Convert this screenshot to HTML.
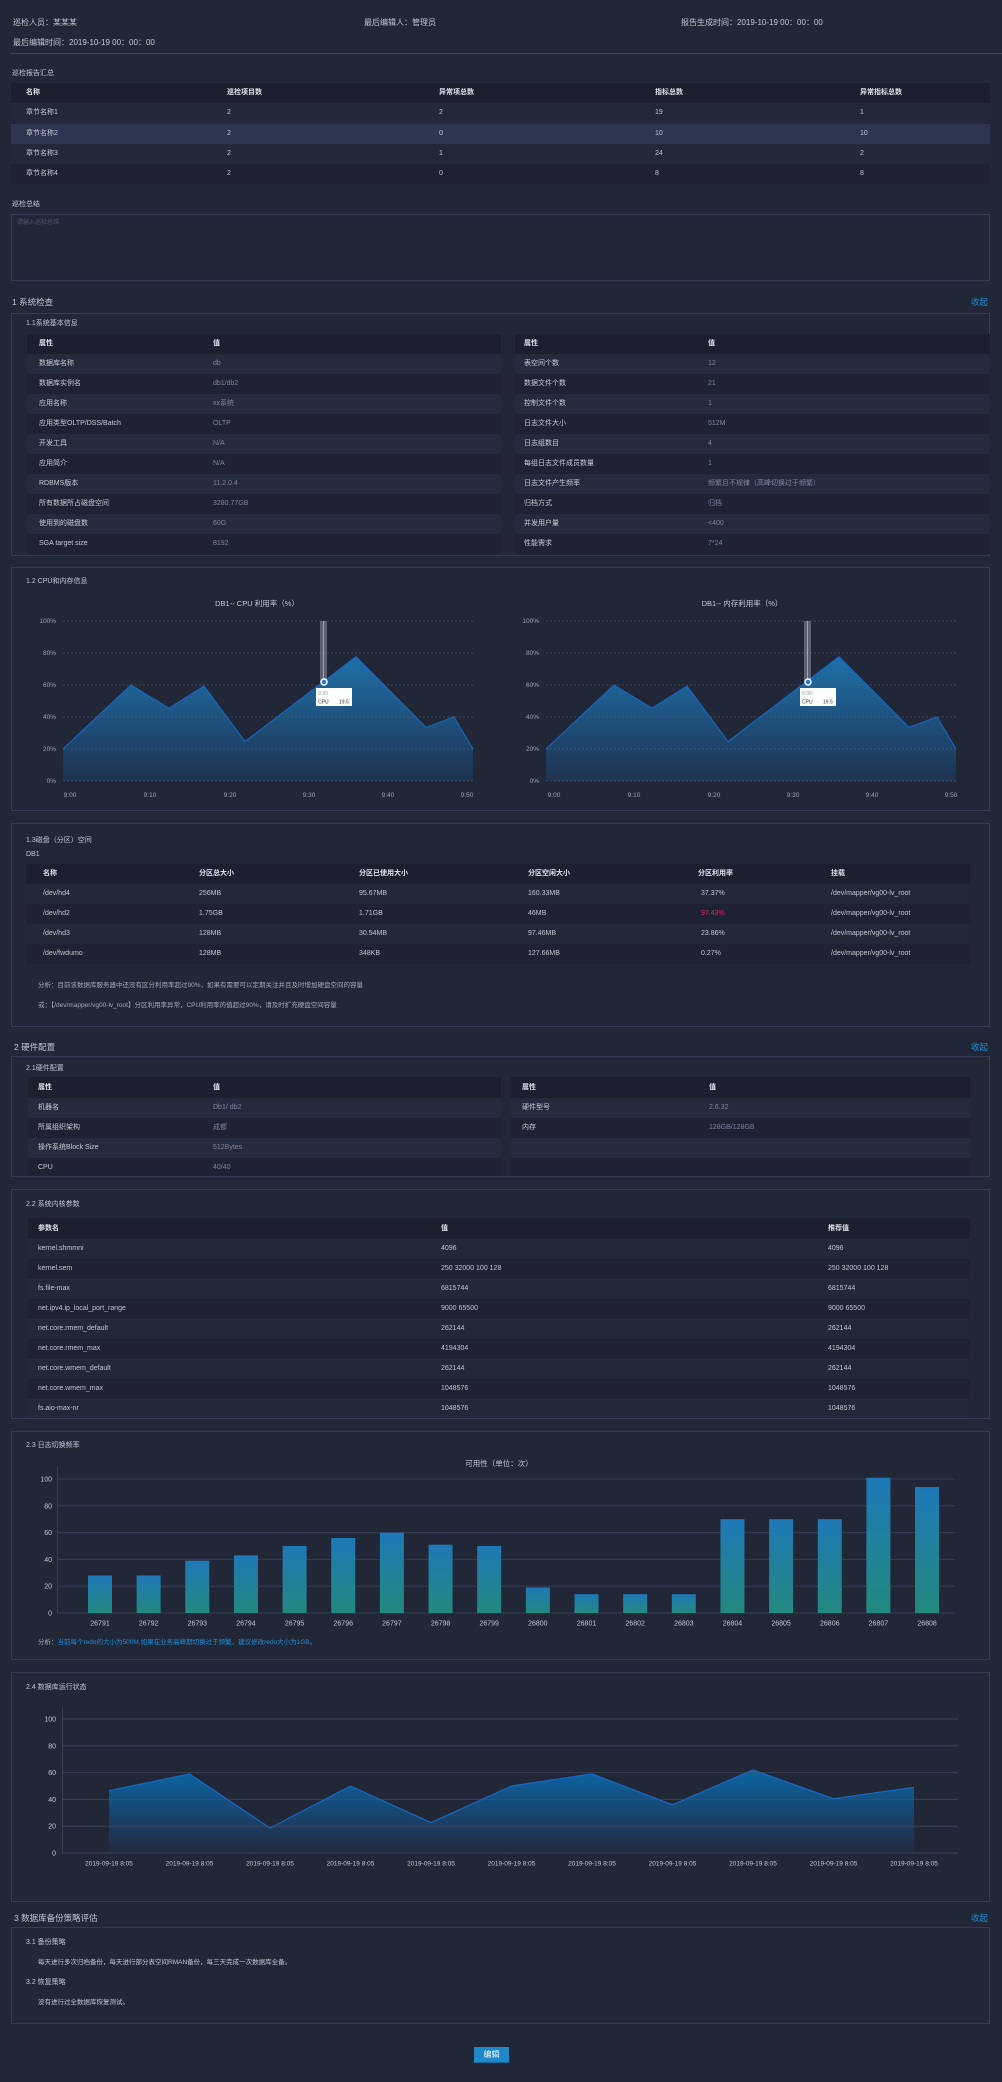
<!DOCTYPE html>
<html><head><meta charset="utf-8">
<style>
*{margin:0;padding:0;box-sizing:border-box}
html,body{width:1002px;height:2082px;overflow:hidden}
body{background:#222738;font-family:"Liberation Sans","Noto Sans CJK SC",sans-serif;color:#c3c7d1;font-size:8px;position:relative}
.a{position:absolute}
.t{position:absolute;white-space:nowrap;line-height:10px}
.s{font-size:8.5px}
.st{font-size:7px}
.p{position:absolute;left:11px;width:979px;border:1px solid #353b50}
.blue{color:#1f8fd6}
.r{position:absolute;height:20px;line-height:20px;font-size:7px;white-space:nowrap}
.r span{position:absolute;top:0}
.h{background:#1b1f2e;color:#dfe2e9;font-weight:bold}
.l{background:#252a3d}
.d{background:#1e2232}
.g{color:#7d85a1}
.w{color:#c8ccd5}
</style></head><body>

<div class="t" style="left:13px;top:18px">巡检人员：某某某</div>
<div class="t" style="left:364px;top:18px">最后编辑人：管理员</div>
<div class="t" style="left:681px;top:18px">报告生成时间：2019-10-19 00：00：00</div>
<div class="t" style="left:13px;top:38px">最后编辑时间：2019-10-19 00：00：00</div>
<div class="a" style="left:11px;top:53px;width:991px;height:1px;background:#3f4559"></div>

<div class="t st" style="left:12px;top:69px">巡检报告汇总</div>
<div class="r h" style="left:11px;top:83px;width:979px"><span style="left:15px">名称</span><span style="left:216px">巡检项目数</span><span style="left:428px">异常项总数</span><span style="left:644px">指标总数</span><span style="left:849px">异常指标总数</span></div>
<div class="r" style="left:11px;top:103px;width:979px;background:#232839"><span style="left:15px">章节名称1</span><span style="left:216px">2</span><span style="left:428px">2</span><span style="left:644px">19</span><span style="left:849px">1</span></div>
<div class="r" style="left:11px;top:124px;width:979px;background:#2e3550"><span style="left:15px">章节名称2</span><span style="left:216px">2</span><span style="left:428px">0</span><span style="left:644px">10</span><span style="left:849px">10</span></div>
<div class="r" style="left:11px;top:144px;width:979px;background:#232839"><span style="left:15px">章节名称3</span><span style="left:216px">2</span><span style="left:428px">1</span><span style="left:644px">24</span><span style="left:849px">2</span></div>
<div class="r" style="left:11px;top:164px;width:979px;background:#1e2232"><span style="left:15px">章节名称4</span><span style="left:216px">2</span><span style="left:428px">0</span><span style="left:644px">8</span><span style="left:849px">8</span></div>

<div class="t st" style="left:12px;top:200px">巡检总结</div>
<div class="p" style="top:214px;height:67px"></div>
<div class="t" style="left:17px;top:218px;font-size:6px;color:#4e5468">请输入巡检总结</div>

<!-- Section 1 -->
<div class="t s" style="left:12px;top:297px">1 系统检查</div>
<div class="t s blue" style="left:971px;top:297px">收起</div>
<div class="p" style="top:313px;height:243px"></div>
<div class="t st" style="left:26px;top:319px">1.1系统基本信息</div>

<div class="r h" style="left:27px;top:334px;width:474px"><span style="left:12px">属性</span><span style="left:186px">值</span></div>
<div class="r l" style="left:27px;top:354px;width:474px"><span class="w" style="left:12px">数据库名称</span><span class="g" style="left:186px">db</span></div>
<div class="r d" style="left:27px;top:374px;width:474px"><span class="w" style="left:12px">数据库实例名</span><span class="g" style="left:186px">db1/db2</span></div>
<div class="r l" style="left:27px;top:394px;width:474px"><span class="w" style="left:12px">应用名称</span><span class="g" style="left:186px">xx系统</span></div>
<div class="r d" style="left:27px;top:414px;width:474px"><span class="w" style="left:12px">应用类型OLTP/DSS/Batch</span><span class="g" style="left:186px">OLTP</span></div>
<div class="r l" style="left:27px;top:434px;width:474px"><span class="w" style="left:12px">开发工具</span><span class="g" style="left:186px">N/A</span></div>
<div class="r d" style="left:27px;top:454px;width:474px"><span class="w" style="left:12px">应用简介</span><span class="g" style="left:186px">N/A</span></div>
<div class="r l" style="left:27px;top:474px;width:474px"><span class="w" style="left:12px">RDBMS版本</span><span class="g" style="left:186px">11.2.0.4</span></div>
<div class="r d" style="left:27px;top:494px;width:474px"><span class="w" style="left:12px">所有数据所占磁盘空间</span><span class="g" style="left:186px">3280.77GB</span></div>
<div class="r l" style="left:27px;top:514px;width:474px"><span class="w" style="left:12px">使用到的磁盘数</span><span class="g" style="left:186px">60G</span></div>
<div class="r d" style="left:27px;top:534px;width:474px"><span class="w" style="left:12px">SGA target size</span><span class="g" style="left:186px">8192</span></div>

<div class="r h" style="left:515px;top:334px;width:475px"><span style="left:9px">属性</span><span style="left:193px">值</span></div>
<div class="r l" style="left:515px;top:354px;width:475px"><span class="w" style="left:9px">表空间个数</span><span class="g" style="left:193px">12</span></div>
<div class="r d" style="left:515px;top:374px;width:475px"><span class="w" style="left:9px">数据文件个数</span><span class="g" style="left:193px">21</span></div>
<div class="r l" style="left:515px;top:394px;width:475px"><span class="w" style="left:9px">控制文件个数</span><span class="g" style="left:193px">1</span></div>
<div class="r d" style="left:515px;top:414px;width:475px"><span class="w" style="left:9px">日志文件大小</span><span class="g" style="left:193px">512M</span></div>
<div class="r l" style="left:515px;top:434px;width:475px"><span class="w" style="left:9px">日志组数目</span><span class="g" style="left:193px">4</span></div>
<div class="r d" style="left:515px;top:454px;width:475px"><span class="w" style="left:9px">每组日志文件成员数量</span><span class="g" style="left:193px">1</span></div>
<div class="r l" style="left:515px;top:474px;width:475px"><span class="w" style="left:9px">日志文件产生频率</span><span class="g" style="left:193px">频繁且不规律（高峰切换过于频繁）</span></div>
<div class="r d" style="left:515px;top:494px;width:475px"><span class="w" style="left:9px">归档方式</span><span class="g" style="left:193px">归档</span></div>
<div class="r l" style="left:515px;top:514px;width:475px"><span class="w" style="left:9px">并发用户量</span><span class="g" style="left:193px">&lt;400</span></div>
<div class="r d" style="left:515px;top:534px;width:475px"><span class="w" style="left:9px">性能需求</span><span class="g" style="left:193px">7*24</span></div>

<!-- 1.2 -->
<div class="p" style="top:567px;height:244px"></div>
<div class="t st" style="left:26px;top:577px">1.2 CPU和内存信息</div>

<!-- 1.3 -->
<div class="p" style="top:823px;height:204px"></div>
<div class="t st" style="left:26px;top:836px">1.3磁盘（分区）空间</div>
<div class="t st" style="left:26px;top:850px">DB1</div>
<div class="r h" style="left:26px;top:864px;width:944px"><span style="left:17px">名称</span><span style="left:173px">分区总大小</span><span style="left:333px">分区已使用大小</span><span style="left:502px">分区空闲大小</span><span style="left:672px">分区利用率</span><span style="left:805px">挂载</span></div>
<div class="r" style="left:26px;top:884px;width:944px;background:#232839"><span style="left:17px">/dev/hd4</span><span style="left:173px">256MB</span><span style="left:333px">95.67MB</span><span style="left:502px">160.33MB</span><span style="left:675px">37.37%</span><span style="left:805px">/dev/mapper/vg00-lv_root</span></div>
<div class="r d" style="left:26px;top:904px;width:944px"><span style="left:17px">/dev/hd2</span><span style="left:173px">1.75GB</span><span style="left:333px">1.71GB</span><span style="left:502px">46MB</span><span style="left:675px;color:#e0245e">97.43%</span><span style="left:805px">/dev/mapper/vg00-lv_root</span></div>
<div class="r" style="left:26px;top:924px;width:944px;background:#232839"><span style="left:17px">/dev/hd3</span><span style="left:173px">128MB</span><span style="left:333px">30.54MB</span><span style="left:502px">97.46MB</span><span style="left:675px">23.86%</span><span style="left:805px">/dev/mapper/vg00-lv_root</span></div>
<div class="r d" style="left:26px;top:944px;width:944px"><span style="left:17px">/dev/fwdumo</span><span style="left:173px">128MB</span><span style="left:333px">348KB</span><span style="left:502px">127.66MB</span><span style="left:675px">0.27%</span><span style="left:805px">/dev/mapper/vg00-lv_root</span></div>
<div class="t" style="left:38px;top:981px;font-size:6.5px;color:#a3a8b5">分析：目前该数据库服务器中还没有区分利用率超过90%，如果有需要可以定期关注并且及时增加硬盘空间的容量</div>
<div class="t" style="left:38px;top:1001px;font-size:6.5px;color:#a3a8b5">或：【/dev/mapper/vg00-lv_root】分区利用率异常，CPU利用率的值超过90%，请及时扩充硬盘空间容量</div>

<!-- Section 2 -->
<div class="t s" style="left:14px;top:1042px">2 硬件配置</div>
<div class="t s blue" style="left:971px;top:1042px">收起</div>
<div class="p" style="top:1056px;height:121px"></div>
<div class="t st" style="left:26px;top:1064px">2.1硬件配置</div>
<div class="r h" style="left:28px;top:1077px;width:473px;height:21px;line-height:21px"><span style="left:10px">属性</span><span style="left:185px">值</span></div>
<div class="r l" style="left:28px;top:1098px;width:473px"><span class="w" style="left:10px">机器名</span><span class="g" style="left:185px">Db1/ db2</span></div>
<div class="r d" style="left:28px;top:1118px;width:473px"><span class="w" style="left:10px">所属组织架构</span><span class="g" style="left:185px">成都</span></div>
<div class="r l" style="left:28px;top:1138px;width:473px"><span class="w" style="left:10px">操作系统Block Size</span><span class="g" style="left:185px">512Bytes</span></div>
<div class="r d" style="left:28px;top:1158px;width:473px;height:18px"><span class="w" style="left:10px">CPU</span><span class="g" style="left:185px">40/40</span></div>
<div class="r h" style="left:511px;top:1077px;width:459px;height:21px;line-height:21px"><span style="left:11px">属性</span><span style="left:198px">值</span></div>
<div class="r l" style="left:511px;top:1098px;width:459px"><span class="w" style="left:11px">硬件型号</span><span class="g" style="left:198px">2.6.32</span></div>
<div class="r d" style="left:511px;top:1118px;width:459px"><span class="w" style="left:11px">内存</span><span class="g" style="left:198px">128GB/128GB</span></div>
<div class="r l" style="left:511px;top:1138px;width:459px"></div>
<div class="r d" style="left:511px;top:1158px;width:459px;height:18px"></div>

<div class="p" style="top:1189px;height:230px"></div>
<div class="t st" style="left:26px;top:1200px">2.2 系统内核参数</div>
<div class="r h" style="left:28px;top:1218px;width:942px;height:21px;line-height:21px"><span style="left:10px">参数名</span><span style="left:413px">值</span><span style="left:800px">推荐值</span></div>
<div class="r" style="left:28px;top:1239px;width:942px;background:#232839"><span style="left:10px">kernel.shmmni</span><span style="left:413px">4096</span><span style="left:800px">4096</span></div>
<div class="r d" style="left:28px;top:1259px;width:942px"><span style="left:10px">kernel.sem</span><span style="left:413px">250 32000 100 128</span><span style="left:800px">250 32000 100 128</span></div>
<div class="r" style="left:28px;top:1279px;width:942px;background:#232839"><span style="left:10px">fs.file-max</span><span style="left:413px">6815744</span><span style="left:800px">6815744</span></div>
<div class="r d" style="left:28px;top:1299px;width:942px"><span style="left:10px">net.ipv4.ip_local_port_range</span><span style="left:413px">9000 65500</span><span style="left:800px">9000 65500</span></div>
<div class="r" style="left:28px;top:1319px;width:942px;background:#232839"><span style="left:10px">net.core.rmem_default</span><span style="left:413px">262144</span><span style="left:800px">262144</span></div>
<div class="r d" style="left:28px;top:1339px;width:942px"><span style="left:10px">net.core.rmem_max</span><span style="left:413px">4194304</span><span style="left:800px">4194304</span></div>
<div class="r" style="left:28px;top:1359px;width:942px;background:#232839"><span style="left:10px">net.core.wmem_default</span><span style="left:413px">262144</span><span style="left:800px">262144</span></div>
<div class="r d" style="left:28px;top:1379px;width:942px"><span style="left:10px">net.core.wmem_max</span><span style="left:413px">1048576</span><span style="left:800px">1048576</span></div>
<div class="r" style="left:28px;top:1399px;width:942px;background:#232839;height:19px"><span style="left:10px">fs.aio-max-nr</span><span style="left:413px">1048576</span><span style="left:800px">1048576</span></div>

<div class="p" style="top:1431px;height:229px"></div>
<div class="t st" style="left:26px;top:1441px">2.3 日志切换频率</div>
<div class="t" style="left:38px;top:1638px;font-size:6.5px;color:#a3a8b5">分析：<span class="blue">当前每个redo的大小为500M,如果在业务高峰期切换过于频繁，建议修改redo大小为1GB。</span></div>

<div class="p" style="top:1672px;height:230px"></div>
<div class="t st" style="left:26px;top:1683px">2.4 数据库运行状态</div>

<!-- Section 3 -->
<div class="t s" style="left:14px;top:1913px">3 数据库备份策略评估</div>
<div class="t s blue" style="left:971px;top:1913px">收起</div>
<div class="p" style="top:1927px;height:97px"></div>
<div class="t st" style="left:26px;top:1938px">3.1 备份策略</div>
<div class="t" style="left:38px;top:1958px;font-size:6.5px">每天进行多次归档备份，每天进行部分表空间RMAN备份，每三天完成一次数据库全备。</div>
<div class="t st" style="left:26px;top:1978px">3.2 恢复策略</div>
<div class="t" style="left:38px;top:1998px;font-size:6.5px">没有进行过全数据库恢复测试。</div>

<div class="a" style="left:474px;top:2047px;width:35px;height:16px;background:#1e88c8;border-bottom:1px solid #166aa0;color:#fff;font-size:8px;line-height:15px;text-align:center">编辑</div>

<svg class="a" style="left:0;top:0" width="1002" height="2082" viewBox="0 0 1002 2082" xmlns="http://www.w3.org/2000/svg" font-family="Liberation Sans, Noto Sans CJK SC, sans-serif">
<defs>
<linearGradient id="cg" gradientUnits="userSpaceOnUse" x1="0" y1="656" x2="0" y2="781">
<stop offset="0" stop-color="#1e71aa"/><stop offset="1" stop-color="#1e3351"/></linearGradient>
<linearGradient id="bg" x1="0" y1="0" x2="0" y2="1">
<stop offset="0" stop-color="#1f78b7"/><stop offset="1" stop-color="#23897f"/></linearGradient>
<linearGradient id="ag" gradientUnits="userSpaceOnUse" x1="0" y1="1768" x2="0" y2="1853">
<stop offset="0" stop-color="#0b66a6"/><stop offset="1" stop-color="#222a40"/></linearGradient>
</defs>

<!-- CPU chart 1 -->
<g>
<text x="257" y="606" font-size="7.5" fill="#c3c7d1" text-anchor="middle">DB1-- CPU 利用率（%）</text>
<polygon points="63,781 63,749 131,685 169,708.2 204,686 245,741.6 356,656.7 426,727.4 454,717 473,749 473,781" fill="url(#cg)"/>
<polyline points="63,749 131,685 169,708.2 204,686 245,741.6 356,656.7 426,727.4 454,717 473,749" fill="none" stroke="#1565c0" stroke-width="1.2"/>
<g stroke="#5a6078" stroke-opacity="0.7" stroke-dasharray="2,2" stroke-width="0.8">
<line x1="63" y1="621" x2="473" y2="621"/><line x1="63" y1="653" x2="473" y2="653"/><line x1="63" y1="685" x2="473" y2="685"/><line x1="63" y1="717" x2="473" y2="717"/><line x1="63" y1="749" x2="473" y2="749"/><line x1="63" y1="781" x2="473" y2="781"/>
</g>
<g font-size="6.5" fill="#9aa0b0" text-anchor="end">
<text x="56" y="623">100%</text><text x="56" y="655">80%</text><text x="56" y="687">60%</text><text x="56" y="719">40%</text><text x="56" y="751">20%</text><text x="56" y="783">0%</text>
</g>
<g font-size="6.5" fill="#9aa0b0" text-anchor="middle">
<text x="70" y="797">9:00</text><text x="150" y="797">9:10</text><text x="230" y="797">9:20</text><text x="309" y="797">9:30</text><text x="388" y="797">9:40</text><text x="467" y="797">9:50</text>
</g>
<rect x="320" y="621" width="7" height="61" fill="#c8d0e0" fill-opacity="0.35"/>
<line x1="323.5" y1="621" x2="323.5" y2="682" stroke="#dfe4ee" stroke-opacity="0.5" stroke-width="1"/>
<circle cx="324" cy="682" r="3" fill="#1e7ae0" stroke="#fff" stroke-width="1.5"/>
<rect x="316" y="688" width="36" height="18" fill="#fff"/>
<text x="318" y="695" font-size="5" fill="#999">9:30</text>
<text x="318" y="703.5" font-size="5" fill="#333">CPU</text><text x="339" y="703.5" font-size="5" fill="#333">19.5</text>
</g>

<!-- chart 2 -->
<g>
<text x="742" y="606" font-size="7.5" fill="#c3c7d1" text-anchor="middle">DB1-- 内存利用率（%）</text>
<polygon points="546,781 546,749 614,685 652,708.2 687,686 728,741.6 839,656.7 909,727.4 937,717 956,749 956,781" fill="url(#cg)"/>
<polyline points="546,749 614,685 652,708.2 687,686 728,741.6 839,656.7 909,727.4 937,717 956,749" fill="none" stroke="#1565c0" stroke-width="1.2"/>
<g stroke="#5a6078" stroke-opacity="0.7" stroke-dasharray="2,2" stroke-width="0.8">
<line x1="546" y1="621" x2="958" y2="621"/><line x1="546" y1="653" x2="958" y2="653"/><line x1="546" y1="685" x2="958" y2="685"/><line x1="546" y1="717" x2="958" y2="717"/><line x1="546" y1="749" x2="958" y2="749"/><line x1="546" y1="781" x2="958" y2="781"/>
</g>
<g font-size="6.5" fill="#9aa0b0" text-anchor="end">
<text x="539" y="623">100%</text><text x="539" y="655">80%</text><text x="539" y="687">60%</text><text x="539" y="719">40%</text><text x="539" y="751">20%</text><text x="539" y="783">0%</text>
</g>
<g font-size="6.5" fill="#9aa0b0" text-anchor="middle">
<text x="554" y="797">9:00</text><text x="634" y="797">9:10</text><text x="714" y="797">9:20</text><text x="793" y="797">9:30</text><text x="872" y="797">9:40</text><text x="951" y="797">9:50</text>
</g>
<rect x="804" y="621" width="7" height="61" fill="#c8d0e0" fill-opacity="0.35"/>
<line x1="807.5" y1="621" x2="807.5" y2="682" stroke="#dfe4ee" stroke-opacity="0.5" stroke-width="1"/>
<circle cx="808" cy="682" r="3" fill="#1e7ae0" stroke="#fff" stroke-width="1.5"/>
<rect x="800" y="688" width="36" height="18" fill="#fff"/>
<text x="802" y="695" font-size="5" fill="#999">9:30</text>
<text x="802" y="703.5" font-size="5" fill="#333">CPU</text><text x="823" y="703.5" font-size="5" fill="#333">19.5</text>
</g>

<!-- bar chart 2.3 -->
<g>
<text x="499" y="1466" font-size="7.5" fill="#c3c7d1" text-anchor="middle">可用性（单位：次）</text>
<g stroke="#363c52" stroke-width="1">
<line x1="57" y1="1479" x2="955" y2="1479"/><line x1="57" y1="1505.8" x2="955" y2="1505.8"/><line x1="57" y1="1532.6" x2="955" y2="1532.6"/><line x1="57" y1="1559.4" x2="955" y2="1559.4"/><line x1="57" y1="1586.2" x2="955" y2="1586.2"/><line x1="57" y1="1613" x2="955" y2="1613"/>
<line x1="57.5" y1="1467" x2="57.5" y2="1613"/>
</g>
<g font-size="7" fill="#c3c7d1" text-anchor="end">
<text x="52" y="1481.5">100</text><text x="52" y="1508.3">80</text><text x="52" y="1535.1">60</text><text x="52" y="1561.9">40</text><text x="52" y="1588.7">20</text><text x="52" y="1615.5">0</text>
</g>
<g fill="url(#bg)">
<rect x="88" y="1575.5" width="24" height="37.5"/>
<rect x="136.65" y="1575.5" width="24" height="37.5"/>
<rect x="185.3" y="1560.7" width="24" height="52.3"/>
<rect x="233.95" y="1555.4" width="24" height="57.6"/>
<rect x="282.6" y="1546" width="24" height="67"/>
<rect x="331.25" y="1538" width="24" height="75"/>
<rect x="379.9" y="1532.6" width="24" height="80.4"/>
<rect x="428.55" y="1544.7" width="24" height="68.3"/>
<rect x="477.2" y="1546" width="24" height="67"/>
<rect x="525.85" y="1587.5" width="24" height="25.5"/>
<rect x="574.5" y="1594.2" width="24" height="18.8"/>
<rect x="623.15" y="1594.2" width="24" height="18.8"/>
<rect x="671.8" y="1594.2" width="24" height="18.8"/>
<rect x="720.45" y="1519.2" width="24" height="93.8"/>
<rect x="769.1" y="1519.2" width="24" height="93.8"/>
<rect x="817.75" y="1519.2" width="24" height="93.8"/>
<rect x="866.4" y="1477.7" width="24" height="135.3"/>
<rect x="915.05" y="1487" width="24" height="126"/>
</g>
<g font-size="7" fill="#c3c7d1" text-anchor="middle">
<text x="100" y="1625.5">26791</text><text x="148.65" y="1625.5">26792</text><text x="197.3" y="1625.5">26793</text><text x="245.95" y="1625.5">26794</text><text x="294.6" y="1625.5">26795</text><text x="343.25" y="1625.5">26796</text><text x="391.9" y="1625.5">26797</text><text x="440.55" y="1625.5">26798</text><text x="489.2" y="1625.5">26799</text><text x="537.85" y="1625.5">26800</text><text x="586.5" y="1625.5">26801</text><text x="635.15" y="1625.5">26802</text><text x="683.8" y="1625.5">26803</text><text x="732.45" y="1625.5">26804</text><text x="781.1" y="1625.5">26805</text><text x="829.75" y="1625.5">26806</text><text x="878.4" y="1625.5">26807</text><text x="927.05" y="1625.5">26808</text>
</g>
</g>

<!-- area chart 2.4 -->
<g>
<polygon points="109,1853 109,1790.7 189.5,1773.9 270,1828.1 350.5,1786 431,1822.7 511.5,1786 592,1773.9 672.5,1804.8 753,1769.9 833.5,1798.7 914,1787.3 914,1853" fill="url(#ag)"/>
<polyline points="109,1790.7 189.5,1773.9 270,1828.1 350.5,1786 431,1822.7 511.5,1786 592,1773.9 672.5,1804.8 753,1769.9 833.5,1798.7 914,1787.3" fill="none" stroke="#1668c4" stroke-width="1.2"/>
<g stroke="#4a5068" stroke-opacity="0.6" stroke-width="1">
<line x1="62" y1="1719" x2="958" y2="1719"/><line x1="62" y1="1745.8" x2="958" y2="1745.8"/><line x1="62" y1="1772.6" x2="958" y2="1772.6"/><line x1="62" y1="1799.4" x2="958" y2="1799.4"/><line x1="62" y1="1826.2" x2="958" y2="1826.2"/><line x1="62" y1="1853" x2="958" y2="1853"/>
<line x1="62.5" y1="1708" x2="62.5" y2="1853"/>
</g>
<g font-size="7" fill="#c3c7d1" text-anchor="end">
<text x="56" y="1721.5">100</text><text x="56" y="1748.3">80</text><text x="56" y="1775.1">60</text><text x="56" y="1801.9">40</text><text x="56" y="1828.7">20</text><text x="56" y="1855.5">0</text>
</g>
<g font-size="6.5" fill="#c3c7d1" text-anchor="middle">
<text x="109" y="1865.5">2019-09-19 8:05</text><text x="189.5" y="1865.5">2019-09-19 8:05</text><text x="270" y="1865.5">2019-09-19 8:05</text><text x="350.5" y="1865.5">2019-09-19 8:05</text><text x="431" y="1865.5">2019-09-19 8:05</text><text x="511.5" y="1865.5">2019-09-19 8:05</text><text x="592" y="1865.5">2019-09-19 8:05</text><text x="672.5" y="1865.5">2019-09-19 8:05</text><text x="753" y="1865.5">2019-09-19 8:05</text><text x="833.5" y="1865.5">2019-09-19 8:05</text><text x="914" y="1865.5">2019-09-19 8:05</text>
</g>
</g>
</svg>
</body></html>
